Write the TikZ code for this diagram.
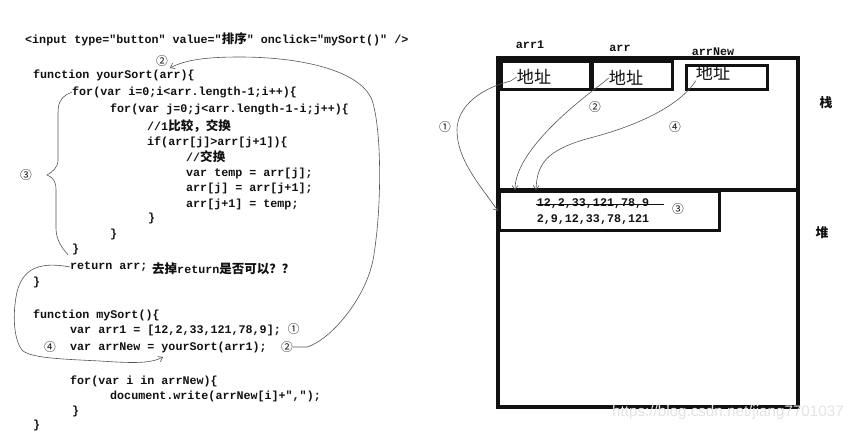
\documentclass[tikz,border=0pt]{standalone}
\usepackage{fontspec}
\setmonofont{Liberation Mono}
\newfontfamily\cjk[Scale=1.07]{Noto Sans CJK SC}
\newfontfamily\wmfont{Liberation Sans}
\usepackage{xcolor}
\usetikzlibrary{arrows.meta,positioning}
\definecolor{ink}{HTML}{111111}
\definecolor{pen}{HTML}{555555}
\definecolor{wmgray}{HTML}{E4E4E4}
\newcommand\codefont{\fontsize{11.7}{14}\selectfont\ttfamily\bfseries}

\begin{document}
\begin{tikzpicture}[x=1pt,y=-1pt,
  code/.style={anchor=west,inner sep=0pt,font=\codefont,text=ink},
  numtag/.style={inner sep=0pt,font=\fontsize{11}{13}\selectfont\cjk,text=ink},
  addr/.style={inner sep=0pt,font=\fontsize{16}{18}\selectfont\cjk,text=ink},
  wall/.style={draw=ink,line width=4pt},
  membox/.style={draw=ink,line width=3pt,anchor=north west,inner sep=0pt},
  hand/.style={pen,line width=0.6pt},
  >={Straight Barb[length=4pt,width=6pt]}
]
\useasboundingbox (0,0) rectangle (862,440);
\fill[white] (0,0) rectangle (862,440);

\node[code] (tag) at (25,39) {<input type="button" value="{\cjk 排序}" onclick="mySort()" />};
\node[code] (f1) at (33,75) {function yourSort(arr)\{};
\node[code] (fori) at (72,92) {for(var i=0;i<arr.length-1;i++)\{};
\node[code] (forj) at (110,109) {for(var j=0;j<arr.length-1-i;j++)\{};
\node[code] (cmt1) at (147,126) {//1{\cjk 比较，交换}};
\node[code] (ifl) at (147,142) {if(arr[j]>arr[j+1])\{};
\node[code] (cmt2) at (186,157) {//{\cjk 交换}};
\node[code] (swap1) at (186,173) {var temp = arr[j];};
\node[code] (swap2) at (186,188) {arr[j] = arr[j+1];};
\node[code] (swap3) at (186,204) {arr[j+1] = temp;};
\node[code] (endif) at (148,218) {\}};
\node[code] (endj) at (110,234) {\}};
\node[code] (endi) at (72,249) {\}};
\node[code] (ret) at (70,267) {return arr;};
\node[code] (ask) at (152,269) {\cjk 去掉{\codefont return}是否可以？？};
\node[code] (endf) at (33,282) {\}};
\node[code] (f2) at (33,315) {function mySort()\{};
\node[code] (decl) at (70,330) {var arr1 = [12,2,33,121,78,9]; {\fontsize{11}{13}\selectfont\mdseries\cjk ①}};
\node[code] (call) at (70,347) {var arrNew = yourSort(arr1);};
\node[code] (loop) at (70,381) {for(var i in arrNew)\{};
\node[code] (write) at (110,396) {document.write(arrNew[i]+",");};
\node[code] (endloop) at (72,411) {\}};
\node[code] (endm) at (33,425) {\}};

\node[numtag] (n2b) at (162,61) {②};
\node[numtag] (n3a) at (26,175) {③};
\node[numtag] (n4a) at (50,347) {④};
\node[numtag] (n2a) at (287,347) {②};
\coordinate (argtip) at (170,68);
\coordinate (calltip) at (163,357);

\draw[hand,->] (n2a.east) -- ++(14,0) .. controls (330,340) and (365,300) .. (373,260)
  .. controls (382,210) and (382,130) .. (372,100) .. controls (360,70) and (300,57) .. (240,57)
  .. controls (205,57) and (185,60) .. (argtip);
\draw[hand] (fori.west) -- ++(-6,3) .. controls (59,100) and (58,105) .. (58,115) -- (58,160)
  .. controls (58,168) and (52,172) .. (47,175) .. controls (54,178) and (56,182) .. (56,190)
  -- (56,228) .. controls (56,240) and (62,248) .. ([xshift=-4pt]endi.south west);
\draw[hand,->] (ret.west) -- ++(-6,-1) .. controls (35,262) and (22,272) .. (17,292)
  .. controls (12,315) and (14,340) .. (22,350) .. controls (30,358) and (60,359) .. (100,361)
  .. controls (130,363) and (150,364) .. (calltip);

\draw[wall] (498,58) rectangle (798,407);
\draw[wall] (498,190) -- (798,190);
\node[membox,minimum width=89pt,minimum height=28pt] (box1) at (500,60) {};
\node[membox,minimum width=80pt,minimum height=28pt] (box2) at (591,60) {};
\node[membox,minimum width=81pt,minimum height=24pt] (box3) at (685,64) {};
\node[membox,minimum width=220pt,minimum height=39pt] (heap) at (498,190) {};

\node[code,anchor=center] (lbl1) at (530,45) {arr1};
\node[code,anchor=center] (lbl2) at (620,48) {arr};
\node[code,anchor=center] (lbl3) at (713,52) {arrNew};
\node[addr] (addr1) at (534,77) {地址};
\node[addr] (addr2) at (626,78) {地址};
\node[addr] (addr3) at (713,73) {地址};
\node[addr,font=\fontsize{12}{14}\selectfont\cjk\bfseries] (stack) at (826,103) {栈};
\node[addr,font=\fontsize{12}{14}\selectfont\cjk\bfseries] (heaplbl) at (822,233) {堆};

\node[code,anchor=center] (oldvals) at (593,204) {12,2,33,121,78,9};
\draw[ink,line width=0.8pt] ([xshift=-1pt]oldvals.west) -- ([xshift=15pt]oldvals.east);
\node[code,anchor=center] (newvals) at (593,220) {2,9,12,33,78,121};
\node[numtag] (n3b) at (678,209) {③};
\node[numtag] (n1b) at (445,127) {①};
\node[numtag] (n2c) at (595,107) {②};
\node[numtag] (n4b) at (675,127) {④};

\draw[hand,->] (addr1.west) -- ++(-6,4) .. controls (475,90) and (457,110) .. (457,130)
  .. controls (457,160) and (480,185) .. (heap.west);
\draw[hand,->] (addr2.west) -- ++(-6,5) .. controls (580,100) and (515,150) .. ([xshift=17pt]heap.north west);
\draw[hand,->] (addr3.south west) .. controls (680,105) and (640,125) .. (590,138)
  .. controls (545,150) and (537,165) .. ([xshift=38pt]heap.north west);

\node[anchor=west,inner sep=0pt,font=\fontsize{15.2}{17}\selectfont\wmfont,text=wmgray] (wm) at (612,413) {https://blog.csdn.net/jiang7701037};
\end{tikzpicture}
\end{document}
